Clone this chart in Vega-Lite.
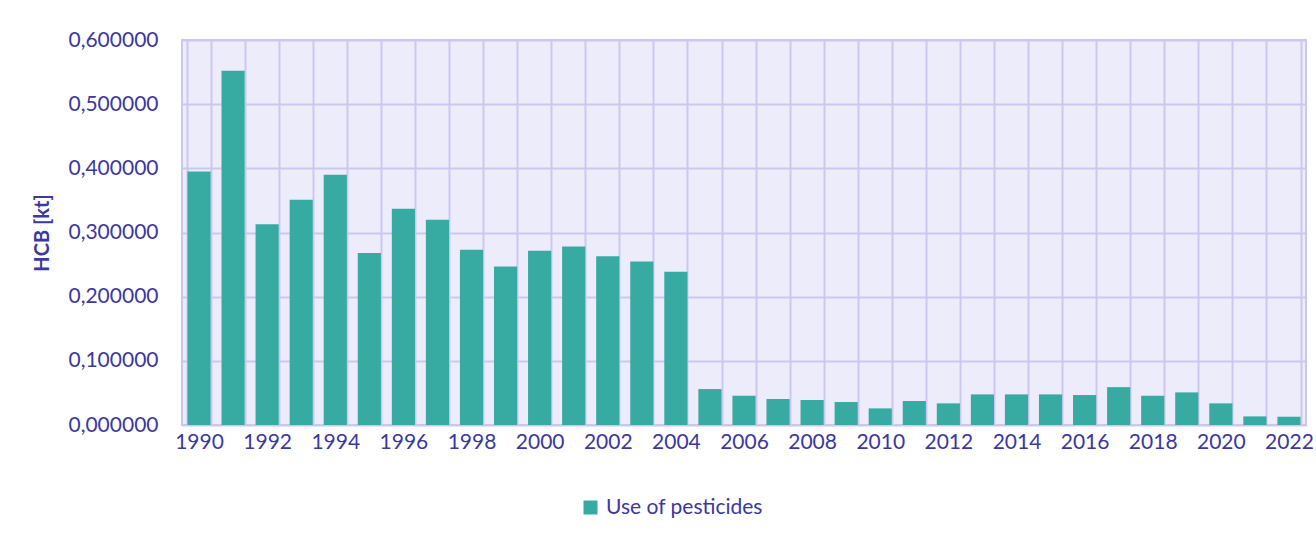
{
  "$schema": "https://vega.github.io/schema/vega-lite/v6.json",
  "width": 1124,
  "height": 385,
  "padding": {"left": 32, "top": 29, "right": 0, "bottom": 0},
  "background": "white",
  "config": {
    "font": "Lato",
    "view": {"fill": "#EDECFA", "stroke": "#CBC7EF", "strokeWidth": 2},
    "axis": {"labelFont": "Lato", "titleFont": "Lato", "labelColor": "#3B389E", "titleColor": "#3B389E", "gridColor": "#CBC7EF", "gridWidth": 2, "gridOpacity": 1, "ticks": false, "domain": false}
  },
  "data": {
    "values": [
      {"year": "1990", "value": 0.395, "series": "Use of pesticides"},
      {"year": "1991", "value": 0.552, "series": "Use of pesticides"},
      {"year": "1992", "value": 0.313, "series": "Use of pesticides"},
      {"year": "1993", "value": 0.351, "series": "Use of pesticides"},
      {"year": "1994", "value": 0.390, "series": "Use of pesticides"},
      {"year": "1995", "value": 0.268, "series": "Use of pesticides"},
      {"year": "1996", "value": 0.337, "series": "Use of pesticides"},
      {"year": "1997", "value": 0.320, "series": "Use of pesticides"},
      {"year": "1998", "value": 0.273, "series": "Use of pesticides"},
      {"year": "1999", "value": 0.247, "series": "Use of pesticides"},
      {"year": "2000", "value": 0.2715, "series": "Use of pesticides"},
      {"year": "2001", "value": 0.278, "series": "Use of pesticides"},
      {"year": "2002", "value": 0.263, "series": "Use of pesticides"},
      {"year": "2003", "value": 0.255, "series": "Use of pesticides"},
      {"year": "2004", "value": 0.239, "series": "Use of pesticides"},
      {"year": "2005", "value": 0.056, "series": "Use of pesticides"},
      {"year": "2006", "value": 0.0456, "series": "Use of pesticides"},
      {"year": "2007", "value": 0.0405, "series": "Use of pesticides"},
      {"year": "2008", "value": 0.039, "series": "Use of pesticides"},
      {"year": "2009", "value": 0.0358, "series": "Use of pesticides"},
      {"year": "2010", "value": 0.0259, "series": "Use of pesticides"},
      {"year": "2011", "value": 0.0374, "series": "Use of pesticides"},
      {"year": "2012", "value": 0.0337, "series": "Use of pesticides"},
      {"year": "2013", "value": 0.0477, "series": "Use of pesticides"},
      {"year": "2014", "value": 0.0477, "series": "Use of pesticides"},
      {"year": "2015", "value": 0.0477, "series": "Use of pesticides"},
      {"year": "2016", "value": 0.0467, "series": "Use of pesticides"},
      {"year": "2017", "value": 0.059, "series": "Use of pesticides"},
      {"year": "2018", "value": 0.0456, "series": "Use of pesticides"},
      {"year": "2019", "value": 0.0508, "series": "Use of pesticides"},
      {"year": "2020", "value": 0.0337, "series": "Use of pesticides"},
      {"year": "2021", "value": 0.0134, "series": "Use of pesticides"},
      {"year": "2022", "value": 0.0129, "series": "Use of pesticides"}
    ]
  },
  "mark": {"type": "bar"},
  "encoding": {
    "x": {
      "field": "year",
      "type": "ordinal",
      "scale": {"paddingInner": 0.32, "paddingOuter": 0.16},
      "axis": {
        "title": null,
        "labelAngle": 0,
        "labelFontSize": 21,
        "labelPadding": 6,
        "labelOverlap": false,
        "labelExpr": "toNumber(datum.value) % 2 == 0 ? datum.value : ''",
        "grid": true,
        "tickBand": "extent"
      }
    },
    "y": {
      "field": "value",
      "type": "quantitative",
      "scale": {"domain": [0, 0.6], "nice": false},
      "axis": {
        "title": "HCB [kt]",
        "titleFontSize": 20,
        "titleFontWeight": "bold",
        "titlePadding": 15,
        "labelFontSize": 21,
        "labelPadding": 24,
        "values": [0, 0.1, 0.2, 0.3, 0.4, 0.5, 0.6],
        "labelExpr": "replace(format(datum.value, '.6f'), '.', ',')",
        "grid": true
      }
    },
    "color": {
      "field": "series",
      "type": "nominal",
      "scale": {"range": ["#37ABA1"]},
      "legend": {
        "title": null,
        "orient": "none",
        "legendX": 398,
        "legendY": 457,
        "symbolType": "square",
        "symbolSize": 196,
        "symbolStrokeWidth": 0,
        "labelFontSize": 21,
        "labelColor": "#3B389E",
        "labelFont": "Lato",
        "labelOffset": 5
      }
    }
  }
}
